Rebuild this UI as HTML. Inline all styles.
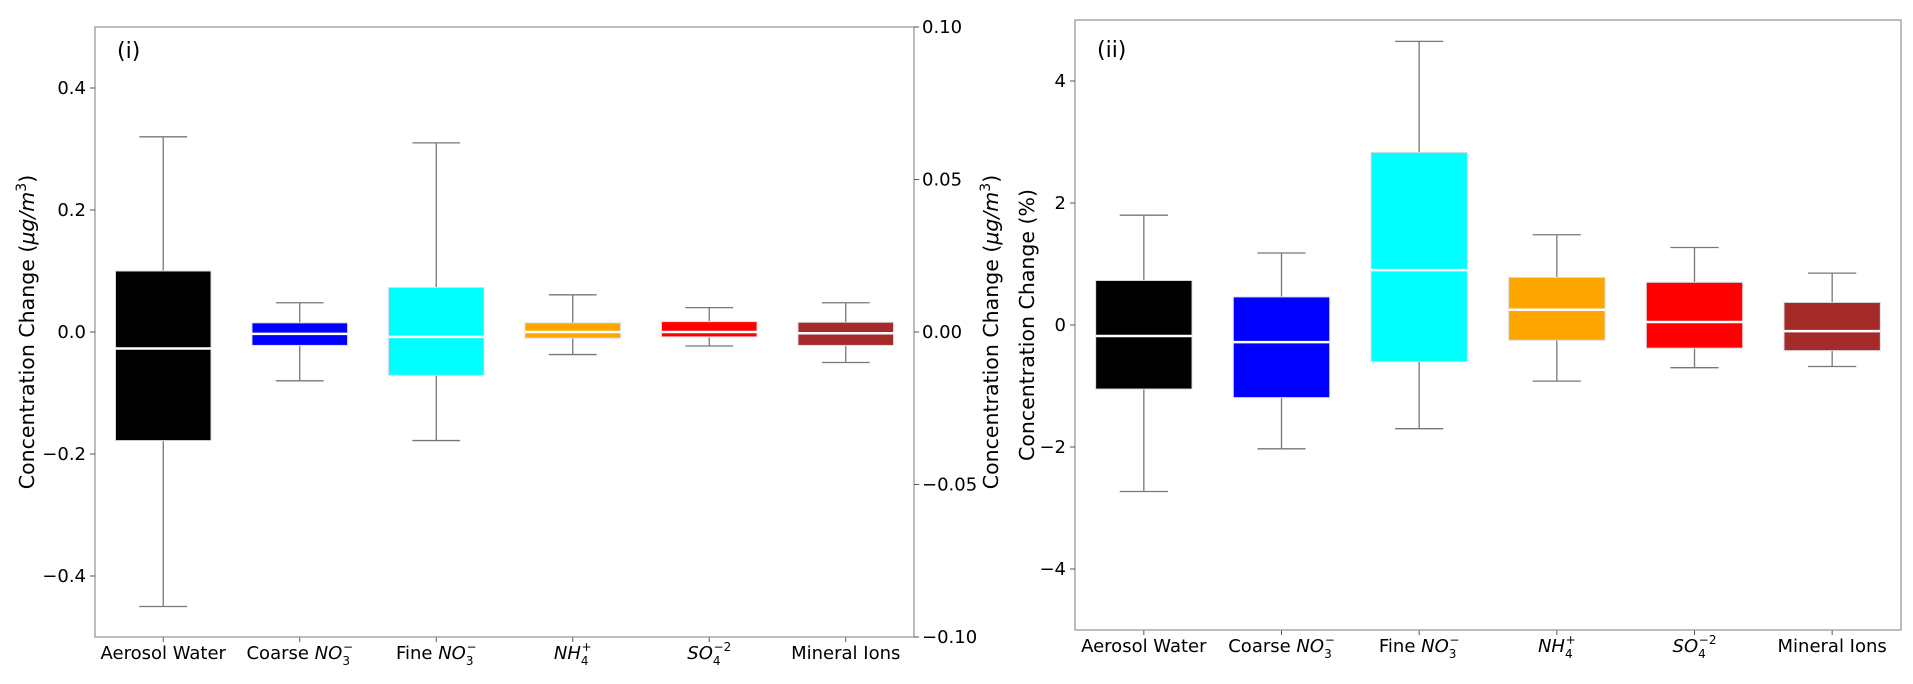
<!DOCTYPE html>
<html><head><meta charset="utf-8"><style>
html,body{margin:0;padding:0;background:#fff;}
svg{display:block;font-family:"DejaVu Sans","Liberation Sans",sans-serif;}
</style></head><body>
<svg id="chart" width="1913" height="684" viewBox="0 0 1913 684" xmlns="http://www.w3.org/2000/svg"></svg>
<script>
const categories = ["Aerosol Water","Coarse NO3","Fine NO3","NH4","SO4","Mineral Ions"];
const colors = ["#000000","#0000ff","#00ffff","#ffa500","#ff0000","#a52a2a"];
const leftHi = [0.32,0.048,0.31,0.061,0.04,0.048];
const leftQ3 = [0.10,0.015,0.073,0.015,0.017,0.016];
const leftMed = [-0.027,-0.003,-0.008,0.0,0.0,-0.002];
const leftQ1 = [-0.178,-0.022,-0.071,-0.01,-0.008,-0.022];
const leftLo = [-0.45,-0.08,-0.178,-0.037,-0.023,-0.05];
const rightHi = [1.8,1.18,4.65,1.48,1.27,0.85];
const rightQ3 = [0.73,0.46,2.83,0.78,0.7,0.37];
const rightMed = [-0.18,-0.28,0.9,0.25,0.05,-0.1];
const rightQ1 = [-1.05,-1.19,-0.6,-0.25,-0.38,-0.42];
const rightLo = [-2.73,-2.03,-1.7,-0.92,-0.7,-0.68];
const leftTicks = [-0.4,-0.2,0.0,0.2,0.4];
const leftTickLabels = ["\u22120.4","\u22120.2","0.0","0.2","0.4"];
const twinTicks = [-0.1,-0.05,0.0,0.05,0.1];
const twinTickLabels = ["\u22120.10","\u22120.05","0.00","0.05","0.10"];
const rightTicks = [-4,-2,0,2,4];
const rightTickLabels = ["\u22124","\u22122","0","2","4"];

const NS="http://www.w3.org/2000/svg";
const svg=document.getElementById('chart');
function mk(tag,attrs,parent){const e=document.createElementNS(NS,tag);for(const k in attrs)e.setAttribute(k,attrs[k]);(parent||svg).appendChild(e);return e;}

function xlabel(g,i,x,y){
  const t=mk('text',{x:x,y:y,'text-anchor':'middle','font-size':18,fill:'#000'},g);
  
  
  const parts={
    0:[["Aerosol Water",""]],
    1:[["Coarse ",""],["NO","i"],["3","sub"],["\u2212","sup"]],
    2:[["Fine ",""],["NO","i"],["3","sub"],["\u2212","sup"]],
    3:[["NH","i"],["4","sub"],["+","sup"]],
    4:[["SO","i"],["4","sub"],["\u22122","sup"]],
    5:[["Mineral Ions",""]]
  }[i];
  parts.forEach(p=>{
    const s=mk('tspan',{},t);s.textContent=p[0];
    if(p[1]==='i'){s.setAttribute('font-style','italic');}
    if(p[1]==='sub'){s.setAttribute('font-size',12);s.setAttribute('dy',6);}
    if(p[1]==='sup'){s.setAttribute('font-size',12);s.setAttribute('dy',-14);s.setAttribute('dx',-7);}
  });
}

function panel(name,L,R,T,B,ymin,ymax,hi,q3,med,q1,lo,ticks,tickLabels,lbl,lblY){
  const g=mk('g',{});
  
  
  const y=v=>B-(v-ymin)/(ymax-ymin)*(B-T);
  const step=(R-L)/categories.length;
  const xc=i=>L+step*(i+0.5);
  categories.forEach((c,i)=>{
    const x=xc(i),bw=step*0.7,cw=step*0.35;
    const bg=mk('g',{},g);
    
    
    mk('line',{x1:x,x2:x,y1:y(hi[i]),y2:y(q3[i]),stroke:'#777','stroke-width':1.3},bg);
    mk('line',{x1:x,x2:x,y1:y(q1[i]),y2:y(lo[i]),stroke:'#777','stroke-width':1.3},bg);
    mk('line',{x1:x-cw/2,x2:x+cw/2,y1:y(hi[i]),y2:y(hi[i]),stroke:'#777','stroke-width':1.3},bg);
    mk('line',{x1:x-cw/2,x2:x+cw/2,y1:y(lo[i]),y2:y(lo[i]),stroke:'#777','stroke-width':1.3},bg);
    mk('rect',{x:x-bw/2,y:y(q3[i]),width:bw,height:y(q1[i])-y(q3[i]),fill:colors[i],stroke:'#ddd','stroke-width':1},bg);
    mk('line',{x1:x-bw/2,x2:x+bw/2,y1:y(med[i]),y2:y(med[i]),stroke:'#fff','stroke-width':2.5},bg);
    mk('line',{x1:x,x2:x,y1:B,y2:B+5,stroke:'#555','stroke-width':1},g);
    xlabel(g,i,x,B+22);
  });
  const ax=mk('rect',{x:L,y:T,width:R-L,height:B-T,fill:'none',stroke:'#999','stroke-width':1.3},g);
  
  
  ticks.forEach((v,k)=>{
    mk('line',{x1:L-5,x2:L,y1:y(v),y2:y(v),stroke:'#555'},g);
    const t=mk('text',{x:L-9,y:y(v)+6,'text-anchor':'end','font-size':18},g);
    t.textContent=tickLabels[k];
    
    
  });
  const p=mk('text',{x:L+22,y:lblY,'font-size':22},g);
  p.textContent=lbl;
  
  
  return {g,y};
}
const P1=panel('panel-i',95,914,27,637,-0.5,0.5,leftHi,leftQ3,leftMed,leftQ1,leftLo,leftTicks,leftTickLabels,'(i)',58);
const ty=v=>637-(v+0.1)/0.2*610;
twinTicks.forEach((v,k)=>{
  mk('line',{x1:914,x2:919,y1:ty(v),y2:ty(v),stroke:'#555'},P1.g);
  const t=mk('text',{x:922,y:ty(v)+6,'font-size':18},P1.g);
  t.textContent=twinTickLabels[k];
  
  
});
const P2=panel('panel-ii',1075,1901,20,630,-5,5,rightHi,rightQ3,rightMed,rightQ1,rightLo,rightTicks,rightTickLabels,'(ii)',57);

function ylab(x,yc,name,pct){
  const t=mk('text',{x:0,y:0,transform:`translate(${x},${yc}) rotate(-90)`,'text-anchor':'middle','font-size':20.5});
  
  
  if(pct){t.textContent='Concentration Change (%)';return;}
  const a=mk('tspan',{},t);a.textContent='Concentration Change (';
  const b=mk('tspan',{'font-style':'italic'},t);b.textContent='\u03bcg/m';
  const c=mk('tspan',{'font-size':14,dy:-8},t);c.textContent='3';
  const d=mk('tspan',{dy:8},t);d.textContent=')';
}
ylab(34,332,'y-axis-title-left',false);
ylab(998,332,'y-axis-title-twin',false);
ylab(1034,325,'y-axis-title-right',true);
</script>
</body></html>
